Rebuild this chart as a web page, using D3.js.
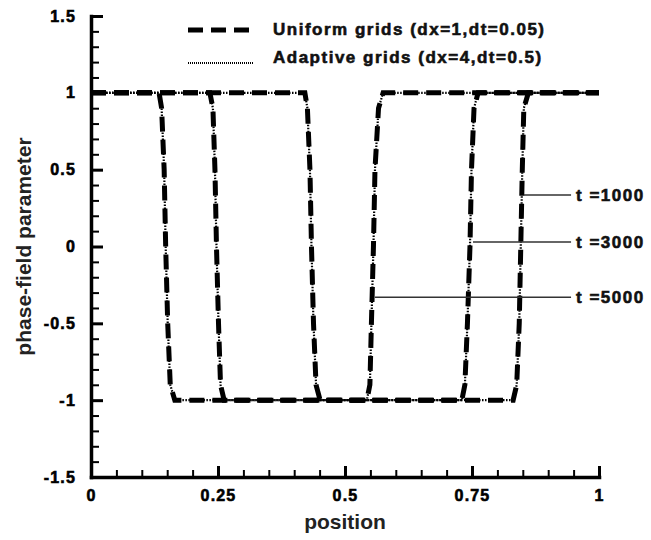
<!DOCTYPE html>
<html>
<head>
<meta charset="utf-8">
<script src="https://cdn.jsdelivr.net/npm/d3@7"></script>
<style>
  body { margin: 0; background: #fff; }
  svg text { font-family: "Liberation Sans", Arial, sans-serif; font-weight: bold; }
</style>
</head>
<body>
<div id="chart"></div>
<script>
// phase-field profiles (uniform and adaptive runs overlap)
const pos1000 = [0, 0.421, 0.426, 0.431, 0.434, 0.438, 0.443, 0.451, 0.831, 0.838, 0.843, 0.846, 0.849, 0.852, 0.861, 1];
const pos3000 = [0, 0.234, 0.240, 0.244, 0.247, 0.251, 0.255, 0.262, 0.730, 0.736, 0.741, 0.746, 0.749, 0.754, 0.762, 1];
const pos5000 = [0, 0.134, 0.139, 0.144, 0.147, 0.151, 0.156, 0.165, 0.543, 0.549, 0.552, 0.556, 0.559, 0.566, 0.575, 1];
const phi = [1, 1, 0.9, 0.5, 0, -0.5, -0.9, -1, -1, -0.9, -0.5, 0, 0.5, 0.9, 1, 1];

const seriesNames = ["Uniform grids (dx=1,dt=0.05)", "Adaptive grids (dx=4,dt=0.5)"];

const xMajor = [0, 0.25, 0.5, 0.75, 1];
const xTickLabels = ["0", "0.25", "0.5", "0.75", "1"];
const yMajor = [-1.5, -1, -0.5, 0, 0.5, 1, 1.5];
const yTickLabels = ["-1.5", "-1", "-0.5", "0", "0.5", "1", "1.5"];

const annLabels = ["t =1000", "t =3000", "t =5000"];
const annX = [0.852, 0.752, 0.559];
const annY = [0.335, 0.03, -0.33];
const annEndX = 0.945;

const width = 651, height = 540;
const margin = {top: 16, right: 52, bottom: 63, left: 91};

let svg = d3.select("#chart")
    .append("svg")
    .attr("width", width)
    .attr("height", height);

let x = d3.scaleLinear().domain([0, 1]).range([margin.left, width - margin.right]);
let y = d3.scaleLinear().domain([-1.5, 1.5]).range([height - margin.bottom, margin.top]);

let line = d3.line()
    .x(function(d) { return x(d[0]) })
    .y(function(d) { return y(d[1]) });

let profiles = [pos1000, pos3000, pos5000].map(function(p) {
    return p.map(function(v, i) { return [v, phi[i]] });
});

// uniform grids: thick dashed
svg.append("g").selectAll("path").data(profiles).enter()
    .append("path")
    .attr("d", line)
    .attr("fill", "none")
    .attr("stroke", "#000")
    .attr("stroke-width", 5)
    .attr("stroke-dasharray", "15,8");

// adaptive grids: thin dotted
svg.append("g").selectAll("path").data(profiles).enter()
    .append("path")
    .attr("d", line)
    .attr("fill", "none")
    .attr("stroke", "#000")
    .attr("stroke-width", 2.2)
    .attr("stroke-dasharray", "1.5,1.5");

// axes (ticks point inward)
let xMinor = d3.range(0, 1.0001, 0.05).filter(function(v) { return Math.abs(v * 4 - Math.round(v * 4)) > 1e-6 });
let yMinor = d3.range(-1.5, 1.5001, 0.1).filter(function(v) { return Math.abs(v * 2 - Math.round(v * 2)) > 1e-6 });

svg.append("g")
    .attr("class", "minor")
    .attr("transform", `translate(0, ${height - margin.bottom})`)
    .call(d3.axisBottom(x).tickValues(xMinor).tickSize(-7).tickSizeOuter(0).tickFormat(""))
    .call(function(g) { g.select(".domain").remove() });
svg.append("g")
    .attr("class", "minor")
    .attr("transform", `translate(${margin.left}, 0)`)
    .call(d3.axisLeft(y).tickValues(yMinor).tickSize(-8).tickSizeOuter(0).tickFormat(""))
    .call(function(g) { g.select(".domain").remove() });

let xAxis = svg.append("g")
    .attr("class", "major")
    .attr("transform", `translate(0, ${height - margin.bottom})`)
    .call(d3.axisBottom(x).tickValues(xMajor).tickSize(-11).tickSizeOuter(0).tickPadding(13)
        .tickFormat(function(d, i) { return xTickLabels[i] }));

let yAxis = svg.append("g")
    .attr("class", "major")
    .attr("transform", `translate(${margin.left}, 0)`)
    .call(d3.axisLeft(y).tickValues(yMajor).tickSize(-12).tickSizeOuter(0).tickPadding(15)
        .tickFormat(function(d, i) { return yTickLabels[i] }));

svg.selectAll(".domain")
    .style("stroke", "#000")
    .style("stroke-width", "3.5px")
    .style("stroke-linecap", "square");
svg.selectAll(".minor .tick line").style("stroke", "#000").style("stroke-width", "2px");
svg.selectAll(".major .tick line").style("stroke", "#000").style("stroke-width", "3px");
svg.selectAll(".tick text")
    .style("fill", "#000")
    .style("font-size", "16px")
    .style("font-family", "'Liberation Sans', Arial, sans-serif")
    .style("font-weight", "bold")
    .style("letter-spacing", "1.2px")
    .style("stroke", "#000")
    .style("stroke-width", "0.6px");

// axis titles
svg.append("text")
    .attr("x", x(0.5))
    .attr("y", 529)
    .attr("text-anchor", "middle")
    .style("fill", "#222")
    .style("font-size", "21px")
    .text("position");

svg.append("text")
    .attr("transform", `translate(31, ${y(0)}) rotate(-90)`)
    .attr("text-anchor", "middle")
    .style("fill", "#222")
    .style("font-size", "21px")
    .text("phase-field parameter");

// legend
let legend = svg.append("g");
let legendY = [30, 63];
let legendStyle = [{w: 5, dash: "15,8"}, {w: 2, dash: "1,1"}];
seriesNames.forEach(function(name, i) {
    legend.append("line")
        .attr("x1", 188).attr("x2", 253)
        .attr("y1", legendY[i]).attr("y2", legendY[i])
        .attr("stroke", "#000")
        .attr("stroke-width", legendStyle[i].w)
        .attr("stroke-dasharray", legendStyle[i].dash);
    legend.append("text")
        .attr("x", 273)
        .attr("y", i == 0 ? 35 : 63)
        .style("fill", "#111")
        .style("stroke", "#111")
        .style("stroke-width", "0.6px")
        .style("font-size", "17px")
        .style("letter-spacing", "1.5px")
        .text(name);
});

// time annotations
annLabels.forEach(function(lab, i) {
    svg.append("line")
        .attr("x1", x(annX[i])).attr("x2", x(annEndX))
        .attr("y1", y(annY[i])).attr("y2", y(annY[i]))
        .attr("stroke", "#333")
        .attr("stroke-width", 1.5);
    svg.append("text")
        .attr("x", x(annEndX) + 5)
        .attr("y", y(annY[i]) + 6)
        .style("fill", "#111")
        .style("stroke", "#111")
        .style("stroke-width", "0.6px")
        .style("font-size", "17px")
        .style("letter-spacing", "1.5px")
        .text(lab);
});
</script>
</body>
</html>
